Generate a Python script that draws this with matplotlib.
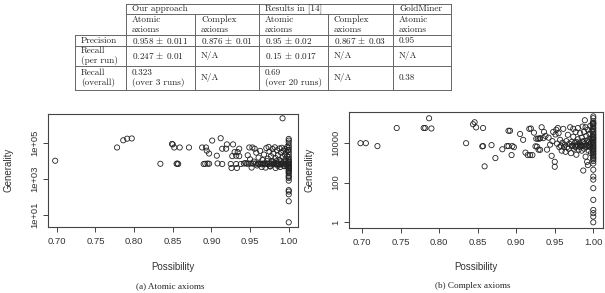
import matplotlib
matplotlib.use("Agg")
import matplotlib.pyplot as plt
import numpy as np

W, H = 605, 293

# ---- tabla ----
groups = ["Our approach", "Results in [14]", "GoldMiner"]
subheads = ["Atomic\naxioms", "Complex\naxioms", "Atomic\naxioms", "Complex\naxioms", "Atomic\naxioms"]
row_labels = ["Precision", "Recall\n(per run)", "Recall\n(overall)"]
cells = [
    ["0.958 $\\pm$ 0.011", "0.876 $\\pm$ 0.01", "0.95 $\\pm$ 0.02", "0.867 $\\pm$ 0.03", "0.95"],
    ["0.247 $\\pm$ 0.01", "N/A", "0.15 $\\pm$ 0.017", "N/A", "N/A"],
    ["0.323\n(over 3 runs)", "N/A", "0.69\n(over 20 runs)", "N/A", "0.38"],
]

# ---- datos: axiomas atomicos ----
atomic_poss = [
    0.698, 0.778, 0.786, 0.791, 0.797, 0.834, 0.849, 0.850, 0.852, 0.855,
    0.856, 0.857, 0.859, 0.871, 0.888, 0.890, 0.892, 0.893, 0.894, 0.895,
    0.897, 0.897, 0.901, 0.907, 0.908, 0.912, 0.914, 0.914, 0.919, 0.920,
    0.925, 0.926, 0.928, 0.927, 0.930, 0.932, 0.933, 0.932, 0.934, 0.936,
    0.936, 0.938,
    0.942, 0.944, 0.946, 0.947, 0.948, 0.949, 0.950, 0.951, 0.952, 0.953,
    0.954, 0.955, 0.956, 0.957, 0.958, 0.959, 0.960, 0.961, 0.962, 0.963,
    0.964, 0.965, 0.966, 0.967, 0.968, 0.969, 0.970, 0.971, 0.972, 0.973,
    0.974, 0.975, 0.975, 0.976, 0.977, 0.978, 0.979, 0.980, 0.980, 0.981,
    0.982, 0.983, 0.983, 0.984, 0.985, 0.986, 0.986, 0.987, 0.988, 0.988,
    0.989, 0.990, 0.990, 0.991, 0.992, 0.992, 0.993, 0.994, 0.994, 0.995,
    0.995, 0.996, 0.996, 0.997, 0.997, 0.998, 0.998, 0.999, 0.999, 0.992,
    0.961, 0.965, 0.969, 0.973, 0.977, 0.981, 0.985, 0.989, 0.993, 0.997,
    0.972, 0.978, 0.984, 0.990, 0.996, 0.976, 0.986, 0.994,
    1.0, 1.0, 1.0, 1.0, 1.0, 1.0, 1.0, 1.0, 1.0, 1.0,
    1.0, 1.0, 1.0, 1.0, 1.0, 1.0, 1.0, 1.0, 1.0, 1.0,
    1.0, 1.0, 1.0, 1.0, 1.0, 1.0, 1.0, 1.0, 1.0, 1.0,
    1.0, 1.0, 1.0,
]
atomic_gen = [
    1.0e4, 5.4e4, 1.35e5, 1.65e5, 1.7e5, 6.8e3, 8.5e4, 8.0e4, 5.4e4, 6.8e3,
    7.0e3, 6.6e3, 5.4e4, 5.4e4, 5.4e4, 6.6e3, 6.8e3, 5.4e4, 3.6e4, 7.0e3,
    2.5e4, 6.8e3, 1.3e5, 1.9e4, 7.1e3, 1.75e5, 4.6e4, 6.6e3, 4.6e4, 8.0e4,
    6.6e3, 4.0e3, 8.0e4, 1.8e4, 3.0e4, 6.6e3, 4.0e3, 1.9e4, 3.0e4, 4.6e4,
    1.8e4, 6.6e3,
    7e3, 7.5e3, 6.8e3, 2e4, 7e3, 5.4e4, 1.2e4, 7e3, 4.2e3, 5.4e4,
    7e3, 9e3, 4.6e4, 7e3, 2.8e4, 5.5e3, 7e3, 1.5e4, 7e3, 3.5e4,
    7e3, 4.5e3, 1.1e4, 7e3, 2.2e4, 7e3, 4.2e3, 5.0e4, 7e3, 1.3e4,
    5.8e4, 7e3, 3.2e4, 4.8e3, 1.8e4, 7e3, 4.5e4, 9e3, 2.5e4, 7e3,
    5.5e4, 4e3, 1.4e4, 7e3, 3.8e4, 6e3, 2e4, 7e3, 4.8e4, 1.1e4,
    4.5e3, 2.8e4, 7e3, 5.2e4, 1.6e4, 7e3, 3.5e4, 5e3, 9e3, 4.4e4,
    2.2e4, 7e3, 1.3e4, 3e4, 5.5e3, 5.8e4, 1.8e4, 7e3, 4e4, 2.2e6,
    6.4e3, 6.4e3, 6.4e3, 6.4e3, 6.4e3, 6.4e3, 6.4e3, 6.4e3, 6.4e3, 6.4e3,
    9.5e3, 9.5e3, 9.5e3, 9.5e3, 9.5e3, 5.2e3, 5.2e3, 5.2e3,
    1.6e5, 1.3e5, 1.0e5, 7e4, 5.4e4, 4e4, 3e4, 2.2e4, 1.6e4, 1.2e4,
    9e3, 7e3, 5.5e3, 4.5e3, 3.5e3, 2.7e3, 2e3, 1.5e3, 1.1e3, 8e2,
    2.4e2, 2.0e2, 1.4e2, 58, 4, 1.05e4, 8e3, 6.2e3, 5e3, 4e3,
    3e3, 2.3e3, 1.3e3,
]

# ---- datos: axiomas complejos ----
complex_poss = [
    0.698, 0.705, 0.720, 0.745, 0.780, 0.782, 0.787, 0.790, 0.835, 0.844,
    0.846, 0.848, 0.857, 0.856, 0.857, 0.859, 0.868, 0.873, 0.882, 0.888,
    0.890, 0.890, 0.892, 0.895, 0.894, 0.897, 0.905, 0.909, 0.912, 0.915,
    0.918, 0.921, 0.917, 0.919, 0.923, 0.926, 0.928, 0.925, 0.927, 0.930,
    0.931, 0.929, 0.931, 0.933, 0.935, 0.936,
    0.938, 0.940, 0.942, 0.944, 0.946, 0.947, 0.948, 0.950, 0.950, 0.951,
    0.952, 0.953, 0.954, 0.955, 0.956, 0.957, 0.958, 0.959, 0.960, 0.961,
    0.962, 0.963, 0.964, 0.965, 0.966, 0.967, 0.968, 0.969, 0.970, 0.971,
    0.972, 0.973, 0.974, 0.974, 0.975, 0.976, 0.977, 0.977, 0.978, 0.979,
    0.980, 0.980, 0.981, 0.982, 0.983, 0.983, 0.984, 0.985, 0.985, 0.986,
    0.986, 0.987, 0.987, 0.988, 0.988, 0.989, 0.989, 0.990, 0.990, 0.991,
    0.991, 0.992, 0.992, 0.993, 0.993, 0.994, 0.994, 0.995, 0.995, 0.996,
    0.996, 0.997, 0.997, 0.998, 0.998, 0.999, 0.999, 0.999,
    0.972, 0.976, 0.980, 0.984, 0.988, 0.992, 0.996, 0.978, 0.986, 0.994,
    1.0, 1.0, 1.0, 1.0, 1.0, 1.0, 1.0, 1.0, 1.0, 1.0,
    1.0, 1.0, 1.0, 1.0, 1.0, 1.0, 1.0, 1.0, 1.0, 1.0,
    1.0, 1.0, 1.0, 1.0, 1.0, 1.0, 1.0, 1.0, 1.0, 1.0,
    1.0, 1.0, 1.0, 1.0, 1.0, 1.0, 1.0, 1.0, 1.0, 1.0,
    1.0,
]
complex_gen = [
    9.5e3, 9.5e3, 6.8e3, 5.5e4, 5.5e4, 5.5e4, 1.7e5, 5.2e4, 9.5e3, 8.5e4,
    1.07e5, 5.9e4, 5.5e4, 6.6e3, 6.8e3, 6.5e2, 7.6e3, 1.7e3, 4.7e3, 6.8e3,
    6.8e3, 4.0e4, 4.0e4, 6.8e3, 2.4e3, 6.0e3, 2.75e4, 1.4e4, 3.2e3, 2.4e3,
    2.4e3, 2.4e3, 5e4, 5.2e4, 3.2e4, 1.6e4, 1.6e4, 6.6e3, 6.4e3, 1.6e4,
    1.7e4, 4.5e3, 4.4e3, 6e4, 1.7e4, 3.5e4,
    2.2e4, 4.5e3, 1.8e4, 8e3, 2.2e3, 1.2e4, 3.5e4, 6.2e2, 1.1e3, 2.6e4,
    4.5e4, 9e3, 5.5e4, 3.0e4, 6e3, 1.4e4, 7e3, 4e3, 1e4, 5e4,
    6e3, 8e3, 3.5e3, 1.2e4, 6e3, 2.5e4, 5e3, 9e3, 6e4, 3e3,
    1.1e4, 7e3, 5e4, 2e4, 5e3, 1e4, 6e3, 3.5e4, 2.5e3, 8e3,
    1.5e4, 5.5e4, 4.5e3, 1e4, 6e3, 3e4, 8e3, 4e3, 1.8e4, 6.5e4,
    7e3, 4e2, 1.2e4, 5e3, 3.5e4, 1.35e5, 9e3, 2e3, 6e4, 6e3,
    2.2e4, 1.1e3, 1.3e4, 7.5e2, 4.5e4, 4e3, 8e3, 2.8e4, 1.6e4, 6e3,
    7e4, 1e4, 3e3, 4e4, 1.5e4, 5e3, 2e4, 9e4,
    7e3, 7e3, 7e3, 7e3, 7e3, 7e3, 7e3, 1.1e4, 1.1e4, 1.1e4,
    2.1e5, 1.2e5, 9e4, 6e4, 4e4, 2.8e4, 2e4, 1.5e4, 1.1e4, 8e3,
    6e3, 4.5e3, 3.3e3, 2.4e3, 1.7e3, 1.2e3, 9e2, 4.4e2, 2e2, 1.4e2,
    52, 13.5, 4.2, 2.9, 1.95, 1.0, 1.7e5, 1.0e5, 7.5e4, 5e4,
    3.4e4, 2.4e4, 1.75e4, 1.3e4, 9.5e3, 7e3, 5.2e3, 3.8e3, 2.8e3, 2e3,
    1.45e3,
]

x_ticks = [0.70, 0.75, 0.80, 0.85, 0.90, 0.95, 1.00]
atomic_yticks = [10, 1000, 100000]
atomic_ylabels = ["1e+01", "1e+03", "1e+05"]
complex_yticks = [1, 100, 10000]
complex_ylabels = ["1", "100", "10000"]


def px_box(l, t, r, b):
    # pasar pixeles (origen arriba-izquierda) a fraccion de figura
    return [l / W, 1 - b / H, (r - l) / W, (b - t) / H]


plt.rcParams['mathtext.fontset'] = 'cm'
fig = plt.figure(figsize=(W / 100, H / 100), dpi=100)

# capa para la tabla, en pixeles
tab = fig.add_axes([0, 0, 1, 1])
tab.set_xlim(0, W)
tab.set_ylim(H, 0)
tab.axis('off')

col_x = [75, 126, 195, 259, 328, 393, 451]
row_y = [4, 14, 35, 46, 65.5, 90]
lc = '#666666'
lw = 0.7
tab_font = dict(family=['cmr10', 'DejaVu Serif'], fontsize=6.6, color='#222222')

# lineas horizontales
tab.plot([col_x[1], col_x[-1]], [row_y[0]] * 2, color=lc, lw=lw)
tab.plot([col_x[1], col_x[-1]], [row_y[1]] * 2, color=lc, lw=lw)
for yy in row_y[2:]:
    tab.plot([col_x[0], col_x[-1]], [yy] * 2, color=lc, lw=lw)
# lineas verticales
tab.plot([col_x[0]] * 2, [row_y[2], row_y[-1]], color=lc, lw=lw)
for i in [1, 3, 5, 6]:
    tab.plot([col_x[i]] * 2, [row_y[0], row_y[-1]], color=lc, lw=lw)
for i in [2, 4]:
    tab.plot([col_x[i]] * 2, [row_y[1], row_y[-1]], color=lc, lw=lw)


def put(txt, x, y0, y1):
    lines = txt.split('\n')
    yc = (y0 + y1) / 2
    n = len(lines)
    for k, ln in enumerate(lines):
        tab.text(x + 6, yc + (k - (n - 1) / 2) * 10, ln, ha='left', va='center', **tab_font)


group_cols = [1, 3, 5]
for g, c in zip(groups, group_cols):
    put(g, col_x[c], row_y[0], row_y[1])
for j, s in enumerate(subheads):
    put(s, col_x[j + 1], row_y[1], row_y[2])
for i, r in enumerate(row_labels):
    put(r, col_x[0], row_y[i + 2], row_y[i + 3])
    for j, c in enumerate(cells[i]):
        put(c, col_x[j + 1], row_y[i + 2], row_y[i + 3])

# ---- graficas de dispersion ----
sans = ['Liberation Sans', 'DejaVu Sans']
tcol = '#333333'


def scatter_panel(box, poss, gen, xlim, ylim, yticks, ylabels, caption, ylab_x):
    ax = fig.add_axes(px_box(*box))
    ax.scatter(poss, gen, s=14, facecolors='none', edgecolors='#222222', linewidths=0.6)
    ax.set_yscale('log')
    ax.set_xlim(xlim)
    ax.set_ylim(ylim)
    ax.set_xticks(x_ticks)
    ax.set_xticklabels(["%.2f" % v for v in x_ticks], family=sans, fontsize=6.8, color=tcol)
    ax.set_yticks(yticks)
    ax.set_yticklabels(ylabels, family=sans, fontsize=6.8, color=tcol, rotation=90, va='center')
    ax.yaxis.set_minor_locator(matplotlib.ticker.NullLocator())
    ax.tick_params(direction='out', length=3.6, width=0.7, color='#444444', pad=3.5)
    ax.tick_params(axis='y', pad=3)
    for sp in ax.spines.values():
        sp.set_color('#444444')
        sp.set_linewidth(0.8)
    cx = (box[0] + box[2]) / 2
    fig.text(cx / W, 1 - 267 / H, "Possibility", ha='center', va='center',
             family=sans, fontsize=7, color=tcol)
    fig.text(ylab_x / W, 1 - 170 / H, "Generality", ha='center', va='center', rotation=90,
             family=sans, fontsize=7, color=tcol)
    fig.text((cx - 3) / W, 1 - 286 / H, caption, ha='center', va='center',
             family=['Liberation Serif', 'DejaVu Serif'], fontsize=6.6, color='#222222')
    return ax


scatter_panel((48, 114, 297.7, 226.7), atomic_poss, atomic_gen,
              (0.6887, 1.0116), (10 ** 0.36, 10 ** 6.58),
              atomic_yticks, atomic_ylabels, "(a) Atomic axioms", 8.5)
scatter_panel((349.3, 112.3, 602.7, 227.7), complex_poss, complex_gen,
              (0.6835, 1.0122), (10 ** -0.27, 10 ** 5.53),
              complex_yticks, complex_ylabels, "(b) Complex axioms", 309.5)

fig.savefig('out.png', dpi=100)
